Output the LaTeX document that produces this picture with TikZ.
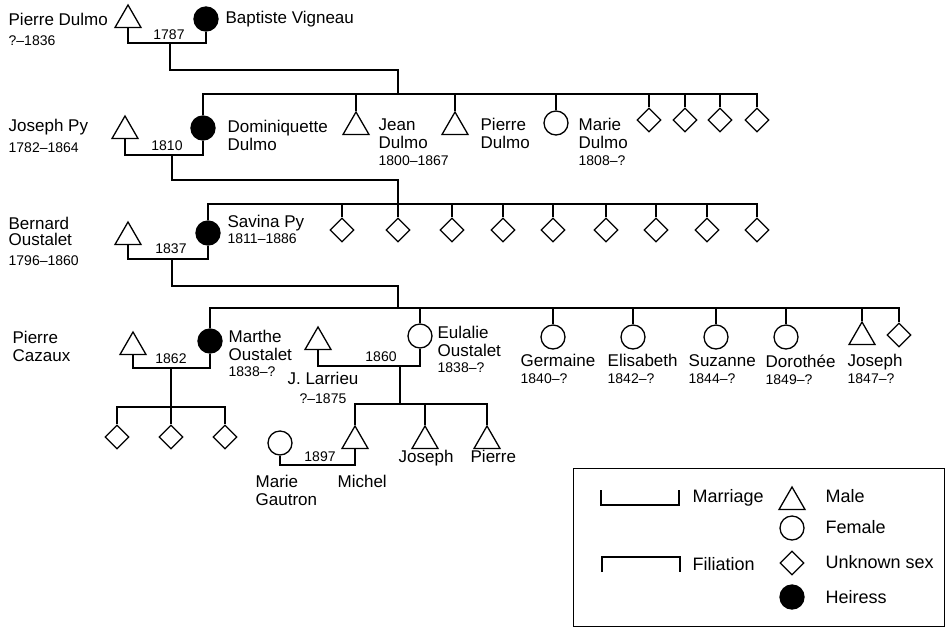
\documentclass[tikz,border=0pt]{standalone}
\usepackage{fontspec}
\setmainfont{Liberation Sans}
\usetikzlibrary{shapes.geometric}

\newcommand{\dt}{\fontsize{14}{16}\selectfont}

\begin{document}
\begin{tikzpicture}[
  x=1pt, y=-1pt,
  line width=1.3pt,
  font=\fontsize{17}{18}\selectfont,
  male/.style={draw, regular polygon, regular polygon sides=3, minimum size=30pt, inner sep=0pt},
  female/.style={draw, circle, minimum size=24pt, inner sep=0pt},
  heiress/.style={female, fill=black},
  unknown/.style={draw, diamond, minimum width=24pt, minimum height=24pt, inner sep=0pt},
  lab/.style={anchor=north west, align=left, inner sep=0pt},
  year/.style={anchor=base, inner sep=0pt, font=\dt},
  legtext/.style={anchor=base west, inner sep=0pt, font=\fontsize{18}{20}\selectfont}
]
\useasboundingbox (0,0) rectangle (949,630);

\node[male] (pdulmo) at (128,20) {};
\node[heiress] (bvigneau) at (206,19) {};
\coordinate (m1) at (170,43);
\draw (pdulmo.south) |- (m1) -| (bvigneau.south);
\node[year] (y1787) at (169,39) {1787};
\node[lab] (t-pdulmo) at (8,13) {Pierre Dulmo\\[2pt]\dt ?--1836};
\node[lab] (t-bvigneau) at (225,11) {Baptiste Vigneau};

\coordinate (f1) at (398,70);
\coordinate (b2) at (398,94);
\draw (m1) |- (f1) -- (b2);

\node[heiress] (ddulmo) at (203,128) {};
\node[male] (jdulmo) at (356,127) {};
\node[male] (pdulmo2) at (455,127) {};
\node[female] (mdulmo) at (556,123) {};
\foreach \i/\x in {1/649,2/685,3/720,4/757}
  \node[unknown] (u2\i) at (\x,120) {};
\draw (ddulmo.north) |- (u24.north |- b2) -- (u24.north);
\foreach \c in {jdulmo,pdulmo2,mdulmo,u21,u22,u23}
  \draw (\c.north |- b2) -- (\c.north);
\node[lab] (t-ddulmo) at (227,120) {Dominiquette\\Dulmo};
\node[lab] (t-jdulmo) at (378,118) {Jean\\Dulmo\\[-1pt]\dt 1800--1867};
\node[lab] (t-pdulmo2) at (480,118) {Pierre\\Dulmo};
\node[lab] (t-mdulmo) at (578,118) {Marie\\Dulmo\\[-1pt]\dt 1808--?};

\node[male] (jpy) at (125,131) {};
\coordinate (m2) at (172,155);
\draw (jpy.south) |- (m2) -| (ddulmo.south);
\node[year] (y1810) at (167,150) {1810};
\node[lab] (t-jpy) at (8,119) {Joseph Py\\[3pt]\dt 1782--1864};

\coordinate (f2) at (398,180);
\coordinate (b3) at (398,204);
\draw (m2) |- (f2) -- (b3);

\node[heiress] (spy) at (208,233) {};
\foreach \i/\x in {1/342,2/398,3/452,4/503,5/553,6/606,7/656,8/707,9/757}
  \node[unknown] (u3\i) at (\x,230) {};
\draw (spy.north) |- (u39.north |- b3) -- (u39.north);
\foreach \i in {1,...,8}
  \draw (u3\i.north |- b3) -- (u3\i.north);
\node[lab] (t-spy) at (227,215) {Savina Py\\[-2pt]\dt 1811--1886};

\node[male] (boustalet) at (128,237) {};
\coordinate (m3) at (172,259);
\draw (boustalet.south) |- (m3) -| (spy.south);
\node[year] (y1837) at (171,253) {1837};
\node[lab] (t-boustalet) at (8,217) {Bernard\\[-2pt]Oustalet\\[2pt]\dt 1796--1860};

\coordinate (f3) at (398,286);
\coordinate (b4) at (398,308);
\draw (m3) |- (f3) -- (b4);

\node[heiress] (moustalet) at (210,341) {};
\node[female] (eoustalet) at (420,336) {};
\node[female] (germaine) at (553,337) {};
\node[female] (elisabeth) at (633,337) {};
\node[female] (suzanne) at (716,337) {};
\node[female] (dorothee) at (786,337) {};
\node[male] (joseph) at (862,337) {};
\node[unknown] (u41) at (899,335) {};
\draw (moustalet.north) |- (u41.north |- b4) -- (u41.north);
\foreach \c in {eoustalet,germaine,elisabeth,suzanne,dorothee,joseph}
  \draw (\c.north |- b4) -- (\c.north);
\node[lab] (t-moustalet) at (228,330) {Marthe\\Oustalet\\[-2pt]\dt 1838--?};
\node[lab] (t-eoustalet) at (437,326) {Eulalie\\Oustalet\\[-2pt]\dt 1838--?};
\node[lab] (t-germaine) at (520,354) {Germaine\\[-1pt]\dt 1840--?};
\node[lab] (t-elisabeth) at (607,354) {Elisabeth\\[-1pt]\dt 1842--?};
\node[lab] (t-suzanne) at (688,354) {Suzanne\\[-1pt]\dt 1844--?};
\node[lab] (t-dorothee) at (765,354) {Dorothée\\[-1pt]\dt 1849--?};
\node[lab] (t-joseph) at (847,354) {Joseph\\[-1pt]\dt 1847--?};

\node[male] (pcazaux) at (133,347) {};
\coordinate (m4) at (171,368);
\draw (pcazaux.south) |- (m4) -| (moustalet.south);
\node[year] (y1862) at (171,363) {1862};
\node[lab] (t-pcazaux) at (12,331) {Pierre\\Cazaux};

\coordinate (b5) at (171,407);
\draw (m4) -- (b5);
\foreach \i/\x in {1/117,2/171,3/225}
  \node[unknown] (u5\i) at (\x,437) {};
\draw (u51.north) |- (u53.north |- b5) -- (u53.north);
\draw (b5) -- (u52.north);

\node[male] (jlarrieu) at (318,342) {};
\coordinate (m5) at (400,366);
\draw (jlarrieu.south) |- (m5) -| (eoustalet.south);
\node[year] (y1860) at (381,361) {1860};
\node[anchor=north, align=center, inner sep=0pt] (t-jlarrieu) at (323,372) {J. Larrieu\\[1pt]\dt ?--1875};

\coordinate (b6) at (400,404);
\draw (m5) -- (b6);
\node[male] (michel) at (355,441) {};
\node[male] (joseph2) at (425,441) {};
\node[male] (pierre2) at (487,441) {};
\draw (michel.north) |- (pierre2.north |- b6) -- (pierre2.north);
\draw (joseph2.north |- b6) -- (joseph2.north);
\node[lab] (t-joseph2) at (398,450) {Joseph};
\node[lab] (t-pierre2) at (470,450) {Pierre};
\node[lab] (t-michel) at (337,475) {Michel};

\node[female] (mgautron) at (280,443) {};
\coordinate (m6) at (318,465);
\draw (mgautron.south) |- (m6) -| (michel.south);
\node[year] (y1897) at (320,461) {1897};
\node[lab] (t-mgautron) at (255,475) {Marie\\Gautron};

\node[draw, anchor=north west, minimum width=371pt, minimum height=158pt, inner sep=0pt] (legend) at (573,468) {};
\coordinate (lm1) at (601,490);
\coordinate (lm2) at (679,490);
\draw (lm1) -- ++(0,15) -| (lm2);
\coordinate (lf1) at (602,572);
\coordinate (lf2) at (680,572);
\draw (lf1) -- ++(0,-15) -| (lf2);
\node[legtext] (l-marriage) at (692,502) {Marriage};
\node[legtext] (l-filiation) at (692,570) {Filiation};
\node[male] (lmale) at (792,502) {};
\node[female] (lfemale) at (792,528) {};
\node[unknown] (lunknown) at (792,563) {};
\node[heiress] (lheiress) at (792,597) {};
\node[legtext] (l-male) at (825,502) {Male};
\node[legtext] (l-female) at (825,533) {Female};
\node[legtext] (l-unknown) at (825,568) {Unknown sex};
\node[legtext] (l-heiress) at (825,603) {Heiress};

\end{tikzpicture}
\end{document}
